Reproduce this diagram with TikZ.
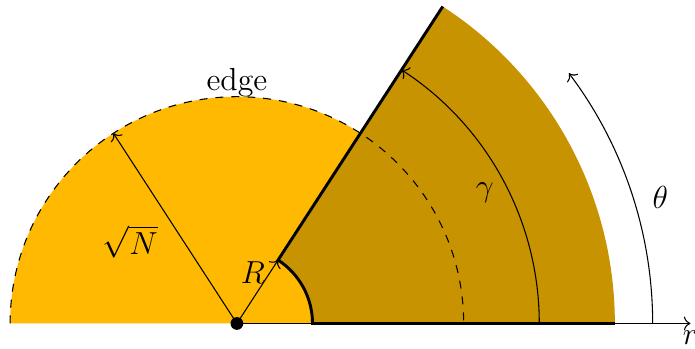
\documentclass[tikz,border=0pt]{standalone}
\usetikzlibrary{arrows.meta}
\definecolor{yel}{RGB}{255,185,0}
\definecolor{drk}{RGB}{200,147,0}
\tikzset{
  lbl/.style={font=\large, inner sep=1pt},
  edgeline/.style={line width=1.1pt},
}
\begin{document}
\begin{tikzpicture}
\useasboundingbox (-3.134,-0.337) rectangle (6.060,4.279);
\def\ang{57}
% yellow half disc
\fill[yel] (-3,0) arc (180:0:3) -- cycle;
% dark annular sector
\fill[drk] (1,0) -- (5,0) arc (0:\ang:5) -- (\ang:1) arc (\ang:0:1) -- cycle;
\coordinate (O) at (0,0);
\coordinate (Rend) at (\ang:1);
\coordinate (Nend) at (123:3);
\coordinate (Rin) at (1,0);
\coordinate (Rout) at (5,0);
\coordinate (Tout) at (\ang:5);
\coordinate (Xend) at (6,0);
% axis
\draw[->] (O) -- (Xend);
% dashed edge
\draw[dashed] (-3,0) arc (180:0:3);
% thick edges
\draw[edgeline] (Rout) -- (Rin) arc (0:\ang:1) -- (Tout);
% arrows
\draw[->] (O) -- (Rend);
\draw[->] (O) -- (Nend);
\draw[->] (4,0) arc (0:\ang:4);
\draw[->] (5.5,0) arc (0:37:5.5);
% dot
\fill (O) circle (2.4pt);
% labels
\node[lbl] (edge) at (0,3.19) {edge};
\node[lbl] (sqn) at (-1.41,1.08) {$\sqrt{N}$};
\node[lbl] (R) at (0.21,0.67) {$R$};
\node[lbl] (gam) at (3.28,1.73) {$\gamma$};
\node[lbl] (th) at (5.6,1.67) {$\theta$};
\node[font=\large, below, inner sep=2.5pt] (r) at (Xend) {$r$};
\end{tikzpicture}
\end{document}
